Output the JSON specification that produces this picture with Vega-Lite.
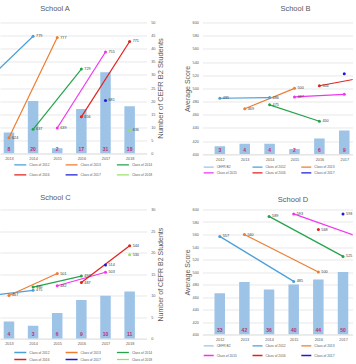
{
 "$schema": "https://vega.github.io/schema/vega-lite/v6.json",
 "background": "white",
 "padding": {"left": 0, "top": 4.5, "right": 0, "bottom": 0},
 "bounds": "flush",
 "columns": 2,
 "spacing": {"row": 55, "column": 55.4},
 "resolve": {"scale": {"color": "independent"}, "legend": {"color": "independent"}},
 "config": {
  "font": "Liberation Sans",
  "view": {"stroke": null},
  "axis": {"labelColor": "#595959", "titleColor": "#595959", "titleFontWeight": "normal", "labelFontSize": 3.8, "domain": false, "ticks": false, "gridColor": "#d9d9d9", "gridWidth": 0.6, "labelPadding": 3, "titlePadding": 3, "labelOverlap": false},
  "axisX": {"domain": true, "domainColor": "#d9d9d9", "domainWidth": 0.6, "grid": false, "labelFlush": 6},
  "axisY": {"labelFlush": false},
  "title": {"color": "#595959", "fontSize": 7.5, "fontWeight": "normal", "baseline": "middle", "frame": "group"},
  "legend": {"symbolType": "stroke", "labelColor": "#595959", "padding": 0, "title": null, "labelFontSize": 3.3, "labelOffset": 2, "symbolStrokeWidth": 1.3, "direction": "horizontal"}
 },
 "datasets": {
  "A_bars": [{"year": 2013, "count": 8}, {"year": 2014, "count": 20}, {"year": 2015, "count": 2}, {"year": 2016, "count": 17}, {"year": 2017, "count": 31}, {"year": 2018, "count": 18}],
  "A_lines": [
   {"class": "Class of 2012", "year": 2012, "score": 708}, {"class": "Class of 2012", "year": 2014, "score": 779},
   {"class": "Class of 2013", "year": 2013, "score": 624}, {"class": "Class of 2013", "year": 2015, "score": 777},
   {"class": "Class of 2014", "year": 2014, "score": 637}, {"class": "Class of 2014", "year": 2016, "score": 729},
   {"class": "Class of 2015", "year": 2015, "score": 639}, {"class": "Class of 2015", "year": 2017, "score": 755},
   {"class": "Class of 2016", "year": 2016, "score": 656}, {"class": "Class of 2016", "year": 2018, "score": 771},
   {"class": "Class of 2017", "year": 2017, "score": 681},
   {"class": "Class of 2018", "year": 2018, "score": 636}
  ],
  "B_bars": [{"year": 2012, "count": 3}, {"year": 2013, "count": 4}, {"year": 2014, "count": 4}, {"year": 2015, "count": 2}, {"year": 2016, "count": 6}, {"year": 2017, "count": 9}],
  "B_lines": [
   {"class": "Class of 2012", "year": 2012, "score": 485}, {"class": "Class of 2012", "year": 2014, "score": 486},
   {"class": "Class of 2013", "year": 2013, "score": 469}, {"class": "Class of 2013", "year": 2015, "score": 500},
   {"class": "Class of 2014", "year": 2014, "score": 475}, {"class": "Class of 2014", "year": 2016, "score": 450},
   {"class": "Class of 2015", "year": 2015, "score": 487}, {"class": "Class of 2015", "year": 2017, "score": 491},
   {"class": "Class of 2016", "year": 2016, "score": 504}, {"class": "Class of 2016", "year": 2018, "score": 518},
   {"class": "Class of 2017", "year": 2017, "score": 522}
  ],
  "C_bars": [{"year": 2013, "count": 4}, {"year": 2014, "count": 3}, {"year": 2015, "count": 6}, {"year": 2016, "count": 9}, {"year": 2017, "count": 10}, {"year": 2018, "count": 11}],
  "C_lines": [
   {"class": "Class of 2012", "year": 2012, "score": 466}, {"class": "Class of 2012", "year": 2014, "score": 475},
   {"class": "Class of 2013", "year": 2013, "score": 467}, {"class": "Class of 2013", "year": 2015, "score": 501},
   {"class": "Class of 2014", "year": 2014, "score": 480}, {"class": "Class of 2014", "year": 2016, "score": 497},
   {"class": "Class of 2015", "year": 2015, "score": 482}, {"class": "Class of 2015", "year": 2017, "score": 503},
   {"class": "Class of 2016", "year": 2016, "score": 487}, {"class": "Class of 2016", "year": 2018, "score": 544},
   {"class": "Class of 2017", "year": 2017, "score": 514},
   {"class": "Class of 2018", "year": 2018, "score": 530}
  ],
  "D_bars": [{"year": 2012, "count": 33}, {"year": 2013, "count": 42}, {"year": 2014, "count": 36}, {"year": 2015, "count": 40}, {"year": 2016, "count": 44}, {"year": 2017, "count": 50}],
  "D_lines": [
   {"class": "Class of 2012", "year": 2012, "score": 557}, {"class": "Class of 2012", "year": 2015, "score": 485},
   {"class": "Class of 2013", "year": 2013, "score": 560}, {"class": "Class of 2013", "year": 2016, "score": 500},
   {"class": "Class of 2014", "year": 2014, "score": 589}, {"class": "Class of 2014", "year": 2017, "score": 525},
   {"class": "Class of 2015", "year": 2015, "score": 593}, {"class": "Class of 2015", "year": 2018, "score": 551},
   {"class": "Class of 2016", "year": 2016, "score": 568},
   {"class": "Class of 2017", "year": 2017, "score": 593}
  ]
 },
 "concat": [
  {
   "width": 146.7, "height": 131,
   "title": {"text": "School A", "dx": -18.3, "offset": 8, "color": "#595959", "font": "Liberation Sans"},
   "resolve": {"scale": {"y": "independent"}},
   "layer": [
    {
     "data": {"name": "A_bars"},
     "layer": [
      {"mark": {"type": "bar", "size": 10.5, "clip": true},
       "encoding": {
        "x": {"field": "year", "type": "quantitative", "title": null, "scale": {"domain": [2012.836, 2018.5], "nice": false, "zero": false}, "axis": {"values": [2013, 2014, 2015, 2016, 2017, 2018], "format": "d", "title": null}},
        "y": {"field": "count", "type": "quantitative", "scale": {"domain": [0, 50], "nice": false}, "axis": {"orient": "right", "values": [0, 5, 10, 15, 20, 25, 30, 35, 40, 45, 50], "grid": true, "title": "Number of CEFR B2 Students", "titleFontSize": 7.5, "titleAngle": 270, "titleBaseline": "top", "labelPadding": 4, "titlePadding": 2}},
        "color": {"datum": "CEFR B2", "scale": {"domain": ["CEFR B2", "Class of 2012", "Class of 2013", "Class of 2014", "Class of 2015", "Class of 2016", "Class of 2017", "Class of 2018"], "range": ["#9DC3E6", "#4A9FD9", "#ED7D31", "#25A34C", "#F035F0", "#E3211C", "#1C1CD8", "#9BE068"]}}
       }},
      {"mark": {"type": "text", "clip": true, "baseline": "middle", "dy": -4.5, "fontSize": 5, "fontWeight": "bold", "color": "#BF3070"},
       "encoding": {"x": {"field": "year", "type": "quantitative", "title": null, "axis": {"values": [2013, 2014, 2015, 2016, 2017, 2018], "format": "d", "title": null}}, "y": {"datum": 0, "type": "quantitative", "axis": {"orient": "right", "values": [0, 5, 10, 15, 20, 25, 30, 35, 40, 45, 50], "grid": true, "title": "Number of CEFR B2 Students", "titleFontSize": 7.5, "titleAngle": 270, "titleBaseline": "top", "labelPadding": 4, "titlePadding": 2}}, "text": {"field": "count"}}}
     ]
    },
    {
     "data": {"name": "A_lines"},
     "layer": [
      {"mark": {"type": "line", "clip": true, "strokeWidth": 1.2},
       "encoding": {
        "x": {"field": "year", "type": "quantitative", "title": null, "axis": {"values": [2013, 2014, 2015, 2016, 2017, 2018], "format": "d", "title": null}},
        "y": {"field": "score", "type": "quantitative", "scale": {"domain": [600, 800], "nice": false, "zero": false}, "axis": null},
        "color": {"field": "class", "type": "nominal", "legend": {"orient": "none", "legendX": 13.3, "legendY": 139.3, "columns": 3, "values": ["Class of 2012", "Class of 2013", "Class of 2014", "Class of 2016", "Class of 2017", "Class of 2018"], "symbolSize": 144, "columnPadding": 14.3, "rowPadding": 4, "clipHeight": 6}}
       }},
      {"mark": {"type": "point", "filled": true, "size": 9, "opacity": 1, "clip": true},
       "encoding": {"x": {"field": "year", "type": "quantitative", "title": null, "axis": {"values": [2013, 2014, 2015, 2016, 2017, 2018], "format": "d", "title": null}}, "y": {"field": "score", "type": "quantitative", "axis": null}, "color": {"field": "class", "type": "nominal"}}},
      {"transform": [{"filter": "datum.year >= 2013"}],
       "mark": {"type": "text", "clip": true, "align": "left", "dx": 3, "baseline": "middle", "fontSize": 3.8, "color": "#404040"},
       "encoding": {"x": {"field": "year", "type": "quantitative", "title": null, "axis": {"values": [2013, 2014, 2015, 2016, 2017, 2018], "format": "d", "title": null}}, "y": {"field": "score", "type": "quantitative", "axis": null}, "text": {"field": "score"}}}
     ]
    }
   ]
  },
  {
   "width": 150.3, "height": 131.7,
   "title": {"text": "School B", "dx": 17.9, "offset": 8, "color": "#595959", "font": "Liberation Sans"},
   "resolve": {"scale": {"y": "independent"}},
   "layer": [
    {
     "data": {"name": "B_bars"},
     "layer": [
      {"mark": {"type": "bar", "size": 10.5, "clip": true},
       "encoding": {
        "x": {"field": "year", "type": "quantitative", "title": null, "scale": {"domain": [2011.5, 2017.138], "nice": false, "zero": false}, "axis": {"values": [2012, 2013, 2014, 2015, 2016, 2017], "format": "d", "title": null}},
        "y": {"field": "count", "type": "quantitative", "scale": {"domain": [0, 50], "nice": false}, "axis": null},
        "color": {"datum": "CEFR B2", "scale": {"domain": ["CEFR B2", "Class of 2012", "Class of 2013", "Class of 2014", "Class of 2015", "Class of 2016", "Class of 2017", "Class of 2018"], "range": ["#9DC3E6", "#4A9FD9", "#ED7D31", "#25A34C", "#F035F0", "#E3211C", "#1C1CD8", "#9BE068"]}}
       }},
      {"mark": {"type": "text", "clip": true, "baseline": "middle", "dy": -4.5, "fontSize": 5, "fontWeight": "bold", "color": "#BF3070"},
       "encoding": {"x": {"field": "year", "type": "quantitative", "title": null, "axis": {"values": [2012, 2013, 2014, 2015, 2016, 2017], "format": "d", "title": null}}, "y": {"datum": 0, "type": "quantitative", "axis": null}, "text": {"field": "count"}}}
     ]
    },
    {
     "data": {"name": "B_lines"},
     "layer": [
      {"mark": {"type": "line", "clip": true, "strokeWidth": 1.2},
       "encoding": {
        "x": {"field": "year", "type": "quantitative", "title": null, "axis": {"values": [2012, 2013, 2014, 2015, 2016, 2017], "format": "d", "title": null}},
        "y": {"field": "score", "type": "quantitative", "scale": {"domain": [400, 600], "nice": false, "zero": false}, "axis": {"orient": "left", "values": [400, 420, 440, 460, 480, 500, 520, 540, 560, 580, 600], "grid": true, "title": "Average Score", "titleFontSize": 7, "labelPadding": 4, "titlePadding": 2}},
        "color": {"field": "class", "type": "nominal", "legend": {"orient": "none", "legendX": 0.3, "legendY": 142.7, "columns": 3, "values": ["CEFR B2", "Class of 2012", "Class of 2013", "Class of 2015", "Class of 2016", "Class of 2017"], "symbolSize": 100, "columnPadding": 13.8, "rowPadding": 1.6, "clipHeight": 4}}
       }},
      {"mark": {"type": "point", "filled": true, "size": 9, "opacity": 1, "clip": true},
       "encoding": {"x": {"field": "year", "type": "quantitative", "title": null, "axis": {"values": [2012, 2013, 2014, 2015, 2016, 2017], "format": "d", "title": null}}, "y": {"field": "score", "type": "quantitative", "axis": {"orient": "left", "values": [400, 420, 440, 460, 480, 500, 520, 540, 560, 580, 600], "grid": true, "title": "Average Score", "titleFontSize": 7, "labelPadding": 4, "titlePadding": 2}}, "color": {"field": "class", "type": "nominal"}}},
      {"transform": [{"filter": "datum.year <= 2016"}],
       "mark": {"type": "text", "clip": true, "align": "left", "dx": 3, "baseline": "middle", "fontSize": 3.8, "color": "#404040"},
       "encoding": {"x": {"field": "year", "type": "quantitative", "title": null, "axis": {"values": [2012, 2013, 2014, 2015, 2016, 2017], "format": "d", "title": null}}, "y": {"field": "score", "type": "quantitative", "axis": {"orient": "left", "values": [400, 420, 440, 460, 480, 500, 520, 540, 560, 580, 600], "grid": true, "title": "Average Score", "titleFontSize": 7, "labelPadding": 4, "titlePadding": 2}}, "text": {"field": "score"}}}
     ]
    }
   ]
  },
  {
   "width": 146.7, "height": 129.3,
   "title": {"text": "School C", "dx": -18, "offset": 6, "color": "#595959", "font": "Liberation Sans"},
   "resolve": {"scale": {"y": "independent"}},
   "layer": [
    {
     "data": {"name": "C_bars"},
     "layer": [
      {"mark": {"type": "bar", "size": 10.5, "clip": true},
       "encoding": {
        "x": {"field": "year", "type": "quantitative", "title": null, "scale": {"domain": [2012.836, 2018.5], "nice": false, "zero": false}, "axis": {"values": [2013, 2014, 2015, 2016, 2017, 2018], "format": "d", "title": null}},
        "y": {"field": "count", "type": "quantitative", "scale": {"domain": [0, 30], "nice": false}, "axis": {"orient": "right", "values": [0, 5, 10, 15, 20, 25, 30], "grid": true, "title": "Number of CEFR B2 Students", "titleFontSize": 7, "titleAngle": 270, "titleBaseline": "top", "labelPadding": 4, "titlePadding": 2}},
        "color": {"datum": "CEFR B2", "scale": {"domain": ["CEFR B2", "Class of 2012", "Class of 2013", "Class of 2014", "Class of 2015", "Class of 2016", "Class of 2017", "Class of 2018"], "range": ["#9DC3E6", "#4A9FD9", "#ED7D31", "#25A34C", "#F035F0", "#E3211C", "#1C1CD8", "#9BE068"]}}
       }},
      {"mark": {"type": "text", "clip": true, "baseline": "middle", "dy": -4.5, "fontSize": 5, "fontWeight": "bold", "color": "#BF3070"},
       "encoding": {"x": {"field": "year", "type": "quantitative", "title": null, "axis": {"values": [2013, 2014, 2015, 2016, 2017, 2018], "format": "d", "title": null}}, "y": {"datum": 0, "type": "quantitative", "axis": {"orient": "right", "values": [0, 5, 10, 15, 20, 25, 30], "grid": true, "title": "Number of CEFR B2 Students", "titleFontSize": 7, "titleAngle": 270, "titleBaseline": "top", "labelPadding": 4, "titlePadding": 2}}, "text": {"field": "count"}}}
     ]
    },
    {
     "data": {"name": "C_lines"},
     "layer": [
      {"mark": {"type": "line", "clip": true, "strokeWidth": 1.2},
       "encoding": {
        "x": {"field": "year", "type": "quantitative", "title": null, "axis": {"values": [2013, 2014, 2015, 2016, 2017, 2018], "format": "d", "title": null}},
        "y": {"field": "score", "type": "quantitative", "scale": {"domain": [400, 600], "nice": false, "zero": false}, "axis": null},
        "color": {"field": "class", "type": "nominal", "legend": {"orient": "none", "legendX": 13.3, "legendY": 140.5, "columns": 3, "values": ["Class of 2012", "Class of 2013", "Class of 2014", "Class of 2016", "Class of 2017", "Class of 2018"], "symbolSize": 144, "columnPadding": 14.3, "rowPadding": 2, "clipHeight": 5}}
       }},
      {"mark": {"type": "point", "filled": true, "size": 9, "opacity": 1, "clip": true},
       "encoding": {"x": {"field": "year", "type": "quantitative", "title": null, "axis": {"values": [2013, 2014, 2015, 2016, 2017, 2018], "format": "d", "title": null}}, "y": {"field": "score", "type": "quantitative", "axis": null}, "color": {"field": "class", "type": "nominal"}}},
      {"transform": [{"filter": "datum.year >= 2013"}],
       "mark": {"type": "text", "clip": true, "align": "left", "dx": 3, "baseline": "middle", "fontSize": 3.8, "color": "#404040"},
       "encoding": {"x": {"field": "year", "type": "quantitative", "title": null, "axis": {"values": [2013, 2014, 2015, 2016, 2017, 2018], "format": "d", "title": null}}, "y": {"field": "score", "type": "quantitative", "axis": null}, "text": {"field": "score"}}}
     ]
    }
   ]
  },
  {
   "width": 150.3, "height": 125,
   "title": {"text": "School D", "dx": 15.5, "offset": 4, "color": "#595959", "font": "Liberation Sans"},
   "resolve": {"scale": {"y": "independent"}},
   "layer": [
    {
     "data": {"name": "D_bars"},
     "layer": [
      {"mark": {"type": "bar", "size": 10.5, "clip": true},
       "encoding": {
        "x": {"field": "year", "type": "quantitative", "title": null, "scale": {"domain": [2011.5, 2017.19], "nice": false, "zero": false}, "axis": {"values": [2012, 2013, 2014, 2015, 2016, 2017], "format": "d", "title": null}},
        "y": {"field": "count", "type": "quantitative", "scale": {"domain": [0, 100], "nice": false}, "axis": null},
        "color": {"datum": "CEFR B2", "scale": {"domain": ["CEFR B2", "Class of 2012", "Class of 2013", "Class of 2014", "Class of 2015", "Class of 2016", "Class of 2017", "Class of 2018"], "range": ["#9DC3E6", "#4A9FD9", "#ED7D31", "#25A34C", "#F035F0", "#E3211C", "#1C1CD8", "#9BE068"]}}
       }},
      {"mark": {"type": "text", "clip": true, "baseline": "middle", "dy": -4.5, "fontSize": 5, "fontWeight": "bold", "color": "#BF3070"},
       "encoding": {"x": {"field": "year", "type": "quantitative", "title": null, "axis": {"values": [2012, 2013, 2014, 2015, 2016, 2017], "format": "d", "title": null}}, "y": {"datum": 0, "type": "quantitative", "axis": null}, "text": {"field": "count"}}}
     ]
    },
    {
     "data": {"name": "D_lines"},
     "layer": [
      {"mark": {"type": "line", "clip": true, "strokeWidth": 1.2},
       "encoding": {
        "x": {"field": "year", "type": "quantitative", "title": null, "axis": {"values": [2012, 2013, 2014, 2015, 2016, 2017], "format": "d", "title": null}},
        "y": {"field": "score", "type": "quantitative", "scale": {"domain": [400, 600], "nice": false, "zero": false}, "axis": {"orient": "left", "values": [400, 420, 440, 460, 480, 500, 520, 540, 560, 580, 600], "grid": true, "title": "Average Score", "titleFontSize": 7, "labelPadding": 4, "titlePadding": 2}},
        "color": {"field": "class", "type": "nominal", "legend": {"orient": "none", "legendX": 0.3, "legendY": 133.3, "columns": 3, "values": ["CEFR B2", "Class of 2012", "Class of 2013", "Class of 2015", "Class of 2016", "Class of 2017"], "symbolSize": 100, "columnPadding": 13.8, "rowPadding": 3.7, "clipHeight": 6}}
       }},
      {"mark": {"type": "point", "filled": true, "size": 9, "opacity": 1, "clip": true},
       "encoding": {"x": {"field": "year", "type": "quantitative", "title": null, "axis": {"values": [2012, 2013, 2014, 2015, 2016, 2017], "format": "d", "title": null}}, "y": {"field": "score", "type": "quantitative", "axis": {"orient": "left", "values": [400, 420, 440, 460, 480, 500, 520, 540, 560, 580, 600], "grid": true, "title": "Average Score", "titleFontSize": 7, "labelPadding": 4, "titlePadding": 2}}, "color": {"field": "class", "type": "nominal"}}},
      {"mark": {"type": "text", "clip": true, "align": "left", "dx": 3, "baseline": "middle", "fontSize": 3.8, "color": "#404040"},
       "encoding": {"x": {"field": "year", "type": "quantitative", "title": null, "axis": {"values": [2012, 2013, 2014, 2015, 2016, 2017], "format": "d", "title": null}}, "y": {"field": "score", "type": "quantitative", "axis": {"orient": "left", "values": [400, 420, 440, 460, 480, 500, 520, 540, 560, 580, 600], "grid": true, "title": "Average Score", "titleFontSize": 7, "labelPadding": 4, "titlePadding": 2}}, "text": {"field": "score"}}}
     ]
    }
   ]
  }
 ]
}
